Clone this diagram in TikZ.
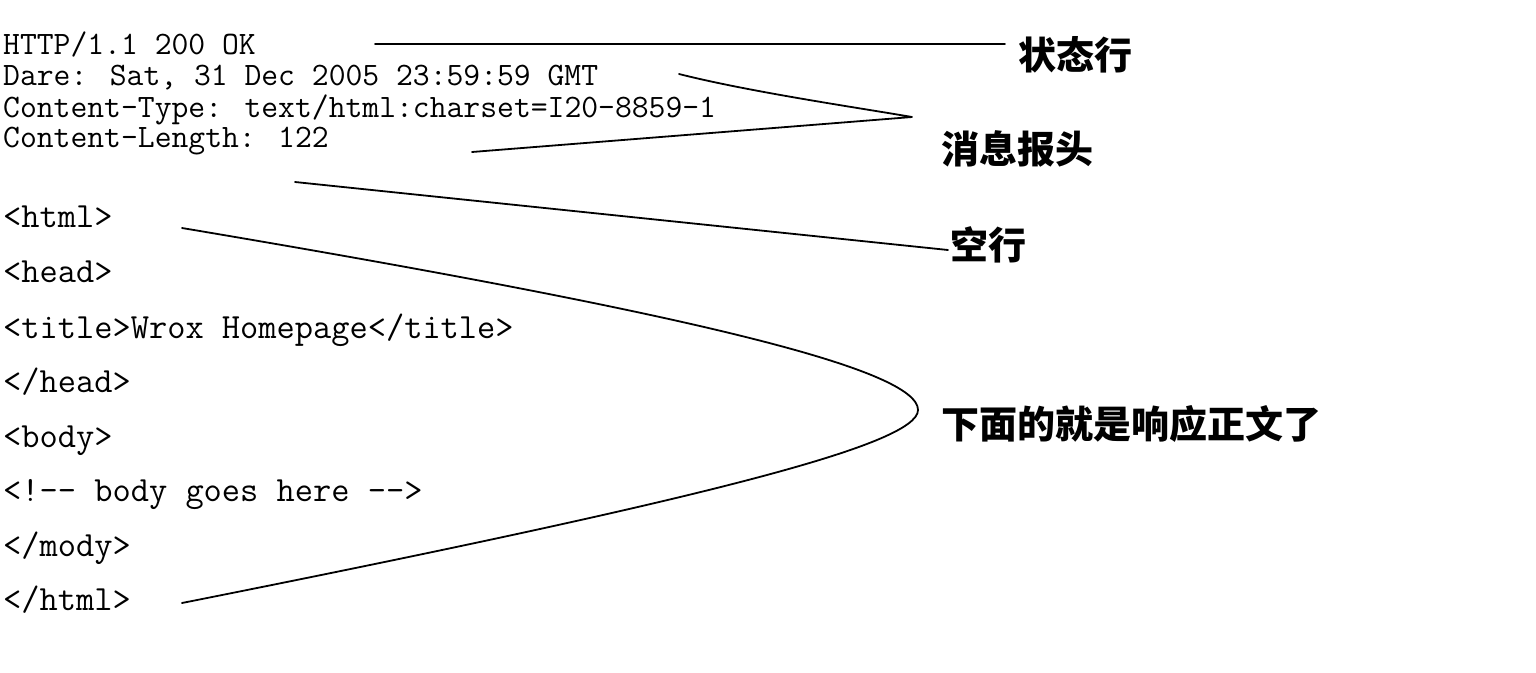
\documentclass[tikz,border=0pt]{standalone}
\usepackage{fontspec}
\newfontfamily\cjk{Noto Sans CJK SC}
\newfontfamily\mono{Latin Modern Mono}
\begin{document}
\begin{tikzpicture}[x=1pt,y=-1pt,
  hdr/.style={anchor=base west, inner sep=0pt, font=\mono\fontsize{32.7}{33}\selectfont},
  code/.style={anchor=base west, inner sep=0pt, font=\mono\fontsize{35.4}{36}\selectfont},
  lbl/.style={inner sep=0pt, font=\cjk\bfseries\fontsize{38}{40}\selectfont},
  conn/.style={line width=1.8pt, line cap=round, line join=round}]
\fill[white] (0,0) rectangle (1536,672);
\useasboundingbox (0,0) rectangle (1536,672);
% header lines
\node[hdr] (t1) at (3,54) {HTTP/1.1 200 OK};
\node[hdr] (t2) at (3,85) {Dare: Sat, 31 Dec 2005 23:59:59 GMT};
\node[hdr] (t3) at (3,117) {Content-Type: text/html:charset=I20-8859-1};
\node[hdr] (t4) at (3,147) {Content-Length: 122};
% body lines
\node[code] (c1) at (3,227) {<html>};
\node[code] (c2) at (3,282) {<head>};
\node[code] (c3) at (3,338) {<title>Wrox Homepage</title>};
\node[code] (c4) at (3,392) {</head>};
\node[code] (c5) at (3,447) {<body>};
\node[code] (c6) at (3,501) {<!-{}- body goes here -{}->};
\node[code] (c7) at (3,556) {</mody>};
\node[code] (c8) at (3,610) {</html>};
% labels
\node[lbl] (l1) at (1075,55) {状态行};
\node[lbl] (l2) at (1017,149) {消息报头};
\node[lbl] (l3) at (988,245) {空行};
\node[lbl] (l4) at (1131,424) {下面的就是响应正文了};
% connector end points
\coordinate (s1) at (375,44);
\coordinate (s2) at (1005,44);
\coordinate (h1) at (679,74);
\coordinate (htip) at (912,117);
\coordinate (h2) at (472,152);
\coordinate (b1) at (295,182);
\coordinate (b2) at (948,250);
\coordinate (r1) at (182,228);
\coordinate (rtip) at (918,410);
\coordinate (r2) at (182,603);
% connectors
\draw[conn] (s1) -- (s2);
\draw[conn] (h1) .. controls (750,92) and (860,108) .. (htip) -- (h2);
\draw[conn] (b1) -- (b2);
\draw[conn] (r1) .. controls (700,315) and (918,370) .. (rtip)
                 .. controls (918,445) and (700,500) .. (r2);
\end{tikzpicture}
\end{document}
